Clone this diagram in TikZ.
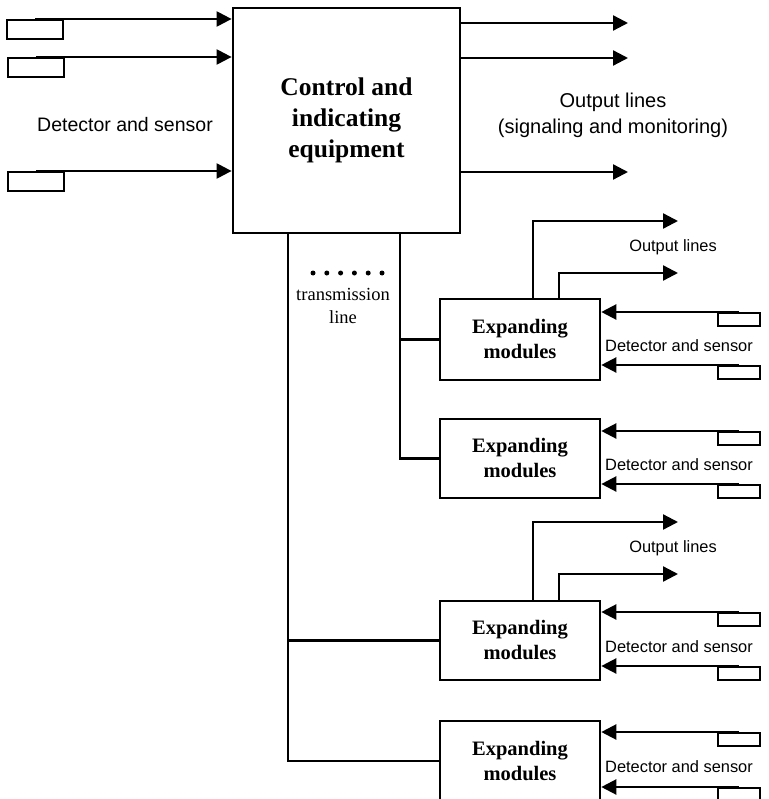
\documentclass[tikz,border=0pt]{standalone}
\usepackage{fontspec}
\setmainfont{Liberation Serif}
\setsansfont{Liberation Sans}
\usetikzlibrary{arrows.meta,positioning}

\begin{document}
\begin{tikzpicture}[
  x=1pt, y=-1pt,
  line width=2.3pt,
  unit/.style = {draw, line width=2.6pt, inner sep=0pt, align=center,
    font=\bfseries\fontsize{20.5}{25}\selectfont,
    minimum width=160pt, minimum height=80pt},
  sens/.style = {draw, line width=2pt, inner sep=0pt,
    minimum width=42pt, minimum height=13pt},
  arr/.style = {-{Triangle[length=15pt, width=15pt]}},
  lbl/.style = {font=\sffamily\fontsize{16.4}{20}\selectfont},
]
\useasboundingbox (0,0) rectangle (768,799);

% control and indicating equipment
\node[draw, line width=2.8pt, inner sep=0pt, minimum width=227pt, minimum height=225pt,
  align=center, font=\bfseries\fontsize{25.5}{31}\selectfont] (ctrl) at (346.5,120.5)
  {Control and\\indicating\\equipment};

% detectors on the left
\node[sens, minimum width=56pt, minimum height=19pt] (s1) at (35,29.5) {};
\node[sens, minimum width=56pt, minimum height=19pt] (s2) at (36,67.5) {};
\node[sens, minimum width=56pt, minimum height=19pt] (s3) at (36,181.5) {};
\draw[arr] (s1.north) -- (s1.north -| ctrl.west);
\draw[arr] (s2.north) -- (s2.north -| ctrl.west);
\draw[arr] (s3.north) -- (s3.north -| ctrl.west);
\node[font=\sffamily\fontsize{19.5}{24}\selectfont] (detl) at (125,125) {Detector and sensor};

% output lines of the panel
\coordinate (o1) at (628,23);
\coordinate (o2) at (628,58);
\coordinate (o3) at (628,172);
\draw[arr] (o1 -| ctrl.east) -- (o1);
\draw[arr] (o2 -| ctrl.east) -- (o2);
\draw[arr] (o3 -| ctrl.east) -- (o3);
\node[align=center, font=\sffamily\fontsize{20}{26}\selectfont] (outl) at (613,115)
  {Output lines\\(signaling and monitoring)};

% expanding modules
\node[unit, minimum height=81pt] (m1) at (520,339.5) {Expanding\\modules};
\node[unit, minimum height=79pt] (m2) at (520,458.5) {Expanding\\modules};
\node[unit, minimum height=79pt] (m3) at (520,640.5) {Expanding\\modules};
\node[unit] (m4) at (520,761) {Expanding\\modules};

% transmission line
\coordinate (busA) at (288,0);
\coordinate (busB) at (400,0);
\draw (ctrl.south -| busA) |- (m4.west);
\draw (m3.west) -- (m3.west -| busA);
\draw (ctrl.south -| busB) |- (m2.west);
\draw (m1.west) -- (m1.west -| busB);
\foreach \i in {0,...,5}
  \fill (313+13.8*\i,273) circle (2.5pt);
\node[align=center, font=\fontsize{18.5}{23}\selectfont] (trl) at (343,306)
  {transmission\\line};

% outputs of the modules
\coordinate (p1) at (678,221);
\coordinate (p2) at (678,273);
\coordinate (p3) at (678,522);
\coordinate (p4) at (678,574);
\draw[arr] (m1.north -| 533,0) |- (p1);
\draw[arr] (m1.north -| 559,0) |- (p2);
\draw[arr] (m3.north -| 533,0) |- (p3);
\draw[arr] (m3.north -| 559,0) |- (p4);
\node[lbl] (ol1) at (673,247) {Output lines};
\node[lbl] (ol2) at (673,548) {Output lines};

% detectors of the modules
\node[sens] (d1a) at (739,319.5) {};
\node[sens] (d1b) at (739,372.5) {};
\node[sens] (d2a) at (739,438.5) {};
\node[sens] (d2b) at (739,491.5) {};
\node[sens] (d3a) at (739,619.5) {};
\node[sens] (d3b) at (739,673.5) {};
\node[sens] (d4a) at (739,739.5) {};
\node[sens] (d4b) at (739,794.5) {};
\draw[arr] (d1a.north) -- (d1a.north -| m1.east);
\draw[arr] (d1b.north) -- (d1b.north -| m1.east);
\draw[arr] (d2a.north) -- (d2a.north -| m2.east);
\draw[arr] (d2b.north) -- (d2b.north -| m2.east);
\draw[arr] (d3a.north) -- (d3a.north -| m3.east);
\draw[arr] (d3b.north) -- (d3b.north -| m3.east);
\draw[arr] (d4a.north) -- (d4a.north -| m4.east);
\draw[arr] (d4b.north) -- (d4b.north -| m4.east);
\node[lbl] (dl1) at (679,346) {Detector and sensor};
\node[lbl] (dl2) at (679,465) {Detector and sensor};
\node[lbl] (dl3) at (679,647) {Detector and sensor};
\node[lbl] (dl4) at (679,767) {Detector and sensor};
\end{tikzpicture}
\end{document}
